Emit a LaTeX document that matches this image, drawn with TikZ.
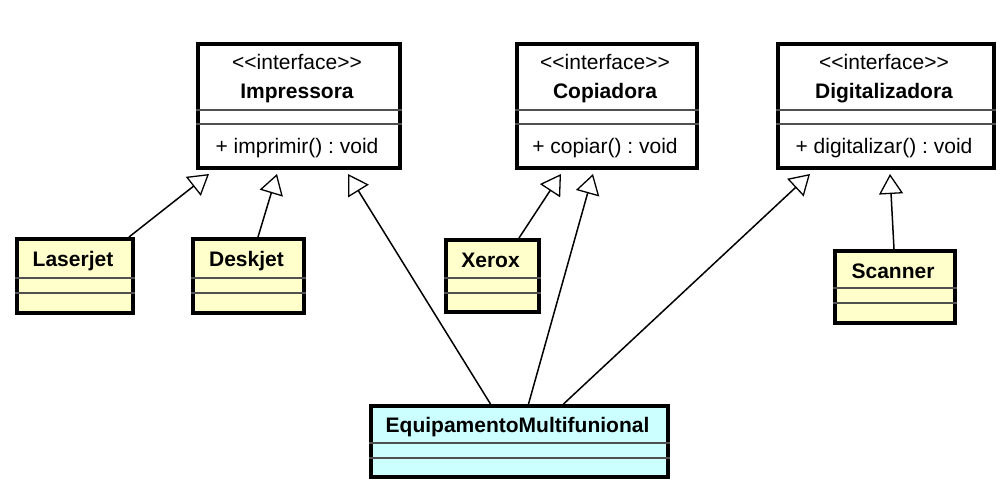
\documentclass[tikz,border=0pt]{standalone}
\usepackage{fontspec}
\setmainfont{Liberation Sans}
\usetikzlibrary{arrows.meta}
\definecolor{clsyellow}{HTML}{FFFFCC}
\definecolor{clscyan}{HTML}{CCFFFF}
\definecolor{sepgray}{HTML}{505050}
\newcommand{\stereo}[1]{<\kern0pt<#1>\kern0pt>}
\frenchspacing
\tikzset{
  umlbox/.style={draw=black, line width=4pt, inner sep=0pt, anchor=north west},
  ifacebox/.style={umlbox, fill=white},
  ybox/.style={umlbox, fill=clsyellow},
  cbox/.style={umlbox, fill=clscyan},
  sepline/.style={draw=sepgray, line width=1.6pt},
  txt/.style={font=\fontsize{21}{24}\selectfont, inner sep=0pt, anchor=base},
  btxt/.style={txt, font=\fontsize{21}{24}\selectfont\bfseries},
  gen/.style={line width=1.5pt, -{Triangle[length=20pt, width=24pt, fill=white, line width=1.3pt]}}
}
\begin{document}
\begin{tikzpicture}[x=1pt, y=-1pt]
\useasboundingbox (0,0) rectangle (1001,493);

% interfaces
\node[ifacebox, minimum width=202pt, minimum height=124pt] (imp) at (196,42) {};
\node[txt]  (impS) at (297,69) {\stereo{interface}};
\node[btxt] (impN) at (297,98) {Impressora};
\draw[sepline] (imp.west |- 0,110) -- (imp.east |- 0,110);
\draw[sepline] (imp.west |- 0,124) -- (imp.east |- 0,124);
\node[txt]  (impM) at (297,153) {+ imprimir() : void};

\node[ifacebox, minimum width=180pt, minimum height=124pt] (cop) at (515,42) {};
\node[txt]  (copS) at (605,69) {\stereo{interface}};
\node[btxt] (copN) at (605,98) {Copiadora};
\draw[sepline] (cop.west |- 0,110) -- (cop.east |- 0,110);
\draw[sepline] (cop.west |- 0,124) -- (cop.east |- 0,124);
\node[txt]  (copM) at (605,153) {+ copiar() : void};

\node[ifacebox, minimum width=216pt, minimum height=124pt] (dig) at (776,42) {};
\node[txt]  (digS) at (884,69) {\stereo{interface}};
\node[btxt] (digN) at (884,98) {Digitalizadora};
\draw[sepline] (dig.west |- 0,110) -- (dig.east |- 0,110);
\draw[sepline] (dig.west |- 0,124) -- (dig.east |- 0,124);
\node[txt]  (digM) at (884,153) {+ digitalizar() : void};

% classes
\node[ybox, minimum width=116pt, minimum height=74pt] (las) at (15,237) {};
\node[btxt] (lasN) at (73,266) {Laserjet};
\draw[sepline] (las.west |- 0,278) -- (las.east |- 0,278);
\draw[sepline] (las.west |- 0,293) -- (las.east |- 0,293);

\node[ybox, minimum width=111pt, minimum height=74pt] (desk) at (191,237) {};
\node[btxt] (deskN) at (246.5,266) {Deskjet};
\draw[sepline] (desk.west |- 0,278) -- (desk.east |- 0,278);
\draw[sepline] (desk.west |- 0,293) -- (desk.east |- 0,293);

\node[ybox, minimum width=93pt, minimum height=72pt] (xer) at (444,238) {};
\node[btxt] (xerN) at (490.5,267) {Xerox};
\draw[sepline] (xer.west |- 0,278) -- (xer.east |- 0,278);
\draw[sepline] (xer.west |- 0,293) -- (xer.east |- 0,293);

\node[ybox, minimum width=120pt, minimum height=72pt] (scan) at (833,249) {};
\node[btxt] (scanN) at (893,278) {Scanner};
\draw[sepline] (scan.west |- 0,288) -- (scan.east |- 0,288);
\draw[sepline] (scan.west |- 0,303) -- (scan.east |- 0,303);

\node[cbox, minimum width=297pt, minimum height=71pt] (eq) at (369,404) {};
\node[btxt] (eqN) at (517.5,432) {EquipamentoMultifunional};
\draw[sepline] (eq.west |- 0,443) -- (eq.east |- 0,443);
\draw[sepline] (eq.west |- 0,458) -- (eq.east |- 0,458);

% generalizations
\draw[gen] ([xshift=-6pt]las.north east) -- ([xshift=13pt, yshift=-4pt]imp.south west);
\draw[gen] ([xshift=67pt]desk.north west) -- ([xshift=81pt, yshift=-4pt]imp.south west);
\draw[gen] ([xshift=-29pt]eq.north) -- ([xshift=49pt, yshift=-4pt]imp.south);
\draw[gen] ([xshift=75pt]xer.north west) -- ([xshift=46pt, yshift=-4pt]cop.south west);
\draw[gen] ([xshift=9pt]eq.north) -- ([xshift=-14pt, yshift=-4pt]cop.south);
\draw[gen] ([xshift=44pt]eq.north) -- ([xshift=34pt, yshift=-4pt]dig.south west);
\draw[gen] ([xshift=-1pt]scan.north) -- ([xshift=4pt, yshift=-4pt]dig.south);
\end{tikzpicture}
\end{document}
